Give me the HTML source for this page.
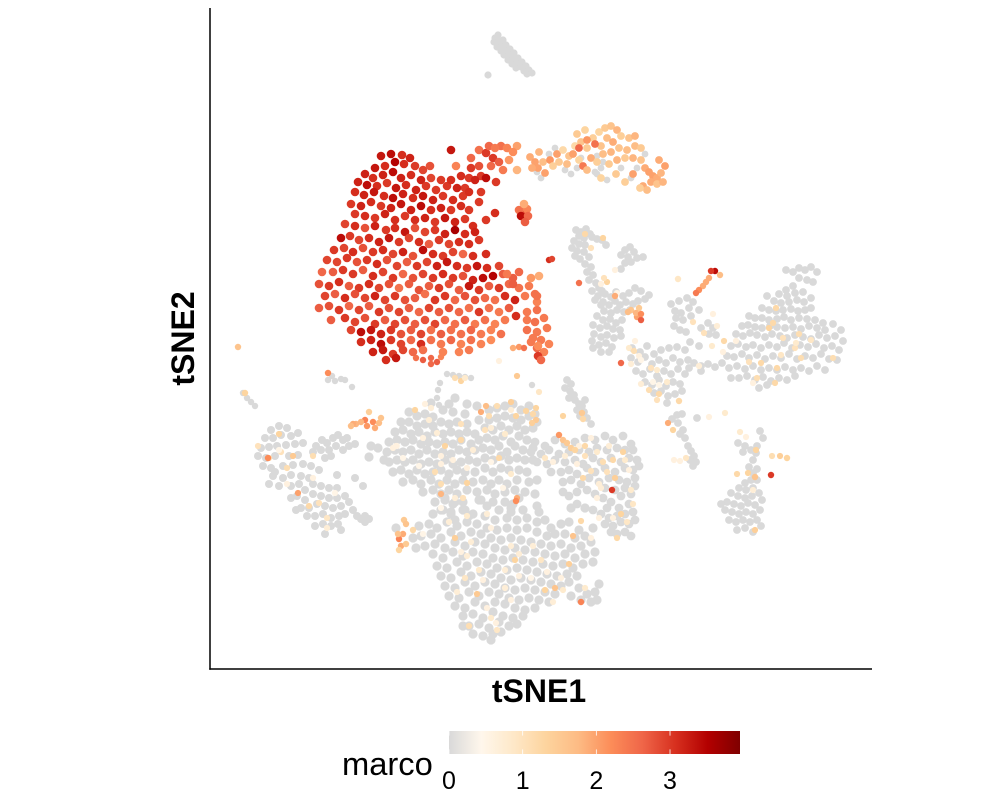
<!DOCTYPE html>
<html lang="en">
<head>
<meta charset="utf-8">
<title>tSNE marco expression</title>
<style>
html,body{margin:0;padding:0;background:#fff}
svg{display:block}
text{font-family:"Liberation Sans",Arial,sans-serif;fill:#000}
</style>
</head>
<body>
<svg id="chart" xmlns="http://www.w3.org/2000/svg" width="986" height="801" viewBox="0 0 986 801">
<g id="points"></g>
<line x1="210" y1="8" x2="210" y2="669.7" stroke="#000" stroke-width="1.5"/>
<line x1="209.3" y1="669" x2="872" y2="669" stroke="#000" stroke-width="1.5"/>
<text x="539" y="702" font-size="32" font-weight="bold" text-anchor="middle">tSNE1</text>
<text transform="translate(194,338.5) rotate(-90)" font-size="32" font-weight="bold" text-anchor="middle">tSNE2</text>
<g id="legend">
<text x="342" y="775" font-size="32.7">marco</text>
</g>
</svg>
<script>
const xDomain = [-331, 331];
const yDomain = [-331, 330];
const legendTicks = [0, 1, 2, 3];
const legendMax = 3.95;
const colorStops = ['#d9d9d9','#fff7ec','#fee8c8','#fdd49e','#fdbb84','#fc8d59','#ef6548','#d7301f','#b30000','#7f0000'];

const topCluster = [-46,300,-43,303,-47,296,-42,297,-38,298,-44,291,-39,292,-35,293,-40,287,-36,288,-31,289,-37,283,-32,283,-27,285,-33,278,-28,279,-23,280,-29,274,-24,275,-19,276,-25,270,-20,271,-15,272,-17,267,-12,268,-14,264,-9,265,-53,263];

const stragglers = [-298,-55,-294,-60,-290,-64,-286,-68,-213,-42,-206,-43,-200,-41,-196,-42,-209,-38,-189,-49,-94,-36,-88,-37,-82,-38,-76,-39,-70,-40,-101,-45,-103,-52,-104,-60,-102,-67,-9,-47];

const upperChain = [35,108,40,106,45,109,49,104,38,102,43,100,51,101,56,99,61,98,65,93,33,97,38,94,44,93,31,90,36,87,34,82,39,79,43,86,48,81,44,74,50,71,46,66,52,63,48,58,55,55,58,50,51,47,57,42,61,47,54,38,60,33,
89,91,84,88,93,86,80,83,87,81,96,80,102,81,84,75,90,76,80,69,
64,44,70,41,75,46,82,42,88,45,94,50,100,47,108,43,62,36,68,33,74,37,79,33,85,36,92,34,97,37,104,39,63,27,70,25,76,28,83,26,89,28,
56,22,62,18,69,19,75,15,81,18,52,13,59,10,66,12,72,9,79,8,53,4,60,1,66,3,73,0,80,2,51,-3,58,-7,65,-5,71,-9,52,-10,60,-14,68,-14,
91,-10,99,-14,106,-8,113,-16,120,-12,128,-10,136,-9,144,-12,90,-20,97,-24,104,-19,111,-26,118,-22,125,-25,132,-20,139,-24,147,-22,95,-33,102,-36,109,-31,116,-38,123,-33,130,-36,137,-31,144,-36,104,-44,111,-47,118,-42,125,-48,132,-44,139,-46,113,-55,120,-53,127,-58,134,-56,141,-53,126,-65,
130,34,138,37,146,40,152,36,158,28,134,27,140,25,148,30,135,20,142,18,150,22,133,12,139,8,145,6,160,10,167,15,172,10,168,4,175,3,149,-4,158,-8,
153,-25,160,-28,167,-26,174,-29,181,-25,160,-33,148,-30,
245,68,252,66,258,70,264,68,270,71,276,66,258,60,266,58,272,56,252,52,245,48,238,44,246,42,254,45,262,46,226,42,233,37,240,35,248,36,256,38,263,36,270,40,
221,30,228,28,235,27,242,28,250,29,257,27,264,28,270,30,208,22,214,20,221,20,228,18,236,19,243,21,250,18,258,20,266,19,274,18,282,15,201,12,207,13,214,11,221,10,229,12,236,11,244,10,252,11,260,9,268,12,276,10,284,8,292,14,300,8,
195,4,202,2,209,5,216,3,224,1,231,4,239,2,246,0,254,3,262,1,270,-1,278,3,286,0,294,2,302,-3,190,-8,197,-6,205,-9,212,-7,220,-10,228,-7,236,-9,243,-5,251,-10,259,-7,267,-9,275,-6,283,-10,291,-8,298,-12,
186,-18,193,-19,201,-16,208,-20,216,-17,224,-21,232,-18,240,-20,248,-16,256,-21,264,-18,272,-20,280,-16,288,-21,296,-22,188,-30,196,-28,204,-31,212,-28,220,-32,228,-30,236,-32,244,-29,252,-32,260,-30,268,-33,276,-28,284,-32,198,-40,206,-38,214,-42,222,-39,230,-43,238,-40,246,-42,254,-38,218,-50,226,-47,190,-40,
131,-81,137,-85,142,-92,139,-96,144,-100,147,-108,150,-113,153,-118,155,-124,149,-122,152,-128,136,-77,156,-80,141,-76,
26,-42,30,-46,24,-50,29,-53,33,-57,28,-60,34,-62,38,-66,36,-72,41,-68,43,-74,39,-78,46,-80,50,-86,44,-62,
197,-105,204,-108,210,-112,216,-108,202,-114,222,-100,219,-93,
208,-129,212,-135,216,-131,210,-142,204,-145,216,-142,198,-150,205,-152,212,-150,190,-155,197,-158,204,-160,211,-158,218,-155,186,-164,193,-166,200,-168,207,-165,214,-167,221,-162,184,-172,191,-174,198,-176,205,-174,212,-176,219,-172,188,-182,195,-184,202,-182,209,-184,216,-182,196,-192,204,-190,212,-194,220,-188,180,-166,212,-122,215,-115];

const leftCluster = [-270,-92,-262,-88,-254,-90,-276,-100,-268,-100,-260,-97,-250,-98,-243,-95,-280,-110,-272,-109,-264,-108,-255,-107,-246,-106,-238,-105,-283,-118,-275,-120,-266,-118,-252,-118,-243,-117,-278,-128,-270,-130,-258,-128,-248,-127,-238,-126,-230,-128,-268,-138,-258,-140,-250,-137,-240,-138,-272,-146,-262,-148,-266,-134,
-225,-108,-219,-102,-214,-105,-208,-100,-203,-97,-198,-102,-192,-108,-228,-114,-220,-112,-212,-112,-205,-108,-198,-112,-194,-100,-186,-106,-210,-118,-216,-120,
-250,-148,-242,-146,-236,-152,-228,-146,-220,-148,-212,-150,-204,-150,-250,-160,-244,-158,-236,-162,-228,-156,-220,-158,-212,-160,-204,-160,-196,-158,-240,-170,-232,-170,-224,-166,-216,-168,-208,-170,-200,-168,-234,-178,-226,-178,-218,-176,-210,-180,-202,-178,-196,-176,-226,-188,-218,-186,-210,-188,-203,-186,-200,-192,-216,-196,-184,-178,-180,-181,-176,-178,-172,-181,-176,-184,-245,-172,-192,-164,-188,-172,-204,-137,-186,-140,-178,-148,-222,-132,-232,-140];

const centralCluster = [-132,-74,-124,-78,-116,-76,-108,-79,-98,-72,-88,-74,-74,-66,-76,-76,-64,-68,-52,-72,-44,-70,-36,-68,-28,-66,-20,-72,-12,-68,-6,-76,
-140,-84,-132,-84,-124,-88,-116,-86,-108,-88,-100,-84,-92,-86,-84,-84,-74,-86,-62,-82,-52,-82,-44,-80,-36,-78,-28,-80,-20,-82,-12,-78,-4,-84,
-146,-94,-138,-92,-130,-96,-122,-94,-114,-98,-106,-94,-98,-96,-90,-94,-82,-96,-74,-94,-66,-96,-56,-90,-48,-92,-40,-88,-32,-92,-24,-88,-16,-92,-8,-90,
-152,-104,-144,-102,-136,-104,-128,-102,-120,-106,-112,-104,-104,-106,-96,-104,-88,-106,-80,-102,-70,-106,-62,-102,-54,-100,-46,-102,-38,-98,-30,-104,-22,-98,-14,-102,
-154,-114,-146,-112,-138,-114,-130,-112,-122,-116,-114,-112,-106,-116,-98,-114,-90,-116,-82,-112,-74,-114,-66,-112,-58,-110,-50,-112,-42,-108,-34,-114,-26,-108,-18,-112,-8,-110,
-152,-124,-144,-122,-136,-124,-128,-122,-120,-126,-112,-124,-104,-126,-96,-122,-88,-126,-80,-124,-72,-122,-64,-124,-56,-120,-48,-122,-40,-118,-32,-122,-24,-120,-16,-122,-8,-122,
-148,-134,-140,-132,-132,-136,-124,-132,-116,-136,-108,-134,-100,-132,-92,-136,-84,-132,-76,-134,-66,-134,-56,-130,-48,-134,-40,-130,-32,-132,-22,-132,-14,-134,
-138,-144,-128,-142,-120,-146,-110,-142,-102,-146,-94,-142,-86,-146,-78,-142,-68,-144,-58,-142,-50,-146,-42,-142,-34,-146,-24,-142,-12,-144,-4,-142,
-118,-154,-108,-152,-100,-156,-92,-152,-84,-156,-74,-152,-64,-154,-54,-152,-46,-156,-36,-154,-26,-152,-16,-154,-6,-156,-106,-164,-96,-162,-88,-166,-78,-164,-60,-162,-48,-164,-36,-164,-28,-166,-4,-168,-100,-172,-90,-174,-76,-172,-30,-174,-22,-160,-72,-178,-86,-182,
-157,-122,-170,-108,-172,-119,-163,-110,-92,-66,-86,-60,-110,-65];

const rightCentral = [-6,-104,4,-108,14,-102,24,-106,34,-104,44,-100,54,-102,64,-98,72,-102,82,-98,90,-106,-10,-114,0,-116,8,-112,18,-116,28,-114,38,-112,48,-114,56,-110,66,-112,76,-110,84,-112,92,-112,
-4,-124,6,-126,14,-122,24,-124,34,-122,42,-126,52,-120,60,-124,70,-120,80,-124,88,-120,96,-122,10,-134,20,-134,28,-132,36,-136,46,-130,54,-134,64,-130,74,-134,84,-130,92,-132,98,-128,
22,-144,30,-142,40,-146,48,-140,58,-144,68,-140,78,-142,86,-144,94,-140,36,-154,46,-152,54,-156,64,-150,74,-152,84,-150,90,-156,94,-148,62,-160,70,-164,80,-158,88,-166,78,-170,66,-170,
60,-176,68,-180,76,-178,84,-176,92,-174,64,-186,72,-188,80,-184,88,-186,94,-182,76,-196,84,-194,90,-198,70,-194,36,-166,44,-170,28,-158,52,-172,22,-154];

const bottomCluster = [-96,-160,-86,-164,-62,-162,-54,-168,-42,-172,-30,-170,-18,-172,-2,-174,4,-182,
-108,-176,-98,-172,-90,-176,-78,-172,-68,-176,-56,-178,-46,-182,-34,-180,-24,-182,-14,-180,-4,-184,10,-190,20,-186,28,-184,38,-192,
-122,-188,-112,-186,-104,-190,-94,-184,-84,-188,-74,-184,-64,-186,-54,-190,-44,-192,-34,-190,-24,-192,-14,-190,-4,-194,6,-198,14,-196,24,-196,34,-200,44,-198,52,-190,
-120,-198,-110,-196,-100,-200,-90,-194,-80,-198,-70,-194,-60,-196,-50,-200,-40,-202,-30,-200,-20,-202,-10,-204,0,-206,10,-208,20,-206,30,-210,40,-208,50,-204,
-116,-208,-106,-206,-96,-210,-86,-204,-76,-208,-66,-204,-56,-206,-46,-210,-36,-212,-26,-210,-16,-212,-6,-214,4,-216,14,-218,24,-216,34,-220,44,-216,54,-214,
-108,-216,-98,-220,-88,-214,-78,-218,-68,-214,-58,-216,-48,-220,-38,-222,-28,-220,-18,-222,-8,-224,2,-226,12,-228,22,-226,32,-230,42,-226,52,-224,
-104,-228,-94,-230,-84,-224,-74,-228,-64,-224,-54,-226,-44,-230,-34,-232,-24,-230,-14,-232,-4,-234,6,-236,16,-238,26,-236,36,-238,
-100,-238,-90,-240,-80,-234,-70,-238,-60,-234,-50,-236,-40,-240,-30,-242,-20,-240,-10,-242,0,-244,10,-246,20,-248,28,-244,38,-250,46,-256,54,-254,58,-246,
-96,-248,-86,-250,-76,-244,-66,-248,-56,-244,-46,-246,-36,-250,-26,-252,-16,-250,-6,-252,4,-254,14,-256,30,-258,40,-262,50,-264,56,-262,
-92,-258,-82,-260,-72,-254,-62,-258,-52,-254,-42,-256,-32,-260,-22,-262,-12,-260,-2,-262,8,-264,-86,-268,-76,-270,-66,-264,-56,-268,-46,-264,-36,-266,-26,-270,-16,-272,-6,-270,
-78,-278,-68,-276,-58,-280,-48,-274,-38,-278,-28,-280,-18,-278,-72,-288,-62,-286,-52,-290,-42,-284,-32,-288,-24,-286,-68,-296,-58,-298,-48,-296,-40,-294,-78,-288,-50,-302,
-145,-190,-128,-200,-125,-210,44,-170,30,-170];

const topOrange = [-11,181,1.9,-6,176,2.0,-3,170,2.0,2,176,1.7,-9,170,1.9,4,165,2.0,9,178,2.1,12,172,1.4,16,184,2.0,22,188,1.2,28,182,1.6,18,176,1.5,26,174,1.7,34,192,1.2,40,196,1.6,44,208,1.3,36,204,1.5,32,184,2.0,38,178,1.3,46,190,1.5,52,200,1.4,58,206,1.3,60,192,1.6,50,180,1.9,56,176,1.4,64,210,1.5,70,212,1.6,76,208,1.8,66,200,1.7,72,196,1.9,80,202,1.4,88,200,1.6,94,202,1.8,62,184,1.7,70,186,1.8,78,190,1.6,86,188,1.7,94,192,1.7,100,190,1.5,68,174,1.5,76,178,1.8,84,180,1.5,92,180,1.8,100,178,1.6,42,172,2.4,46,168,1.7,92,164,2.0,60,160,1.3,84,156,1.4,104,170,1.9,108,166,2.0,112,162,2.0,116,160,1.9,120,165,1.8,124,172,2.0,110,156,1.9,116,154,1.6,122,156,1.8,102,152,1.9,106,148,1.7,99,150,1.4,38,190,2.6,46,198,2.1,54,194,2.5,-2,186,1.8,75,164,1.5,118,178,1.9];

const topOrangeGrey = [8,184,14,190,24,168,30,164,40,180,36,170,60,170,54,166,62,176,80,170,56,164,66,158,90,160,96,170,104,184,-4,166,0,160,56,182];

const macrophageMain = [-160,182,3.3,-150,184,3.4,-139,183,3.1,-131,180,3.2,-146,176,3.5,-156,172,3.1,-166,170,3.3,-176,164,3.2,-137,174,3.1,-126,172,3.0,-118,168,2.9,-111,172,2.8,-168,160,3.1,-158,163,3.2,-148,166,3.4,-140,160,3.2,-130,163,3.1,-120,158,3.2,-110,160,2.9,-100,158,3.0,-183,156,3.2,-174,153,3.4,-164,152,3.1,-154,155,3.0,-145,150,3.3,-135,153,3.1,-125,148,3.2,-115,152,3.0,-105,148,3.0,-94,152,3.0,-186,146,3.1,-177,143,3.2,-167,146,3.3,-157,142,3.1,-148,140,3.4,-138,144,3.2,-128,140,3.1,-118,142,3.3,-108,138,3.2,-98,142,3.0,-88,138,3.1,-78,142,3.0,-190,134,3.0,-180,132,3.2,-170,136,3.1,-160,132,3.0,-150,130,3.2,-140,134,3.3,-130,128,3.2,-120,132,3.4,-110,128,3.1,-100,130,3.2,-90,128,3.0,-80,132,3.1,-72,128,3.0,
-186,124,3.0,-176,122,3.1,-166,120,3.0,-156,124,3.2,-146,118,3.1,-136,122,3.0,-126,118,3.1,-116,120,3.2,-106,116,3.0,-96,120,3.3,-86,116,3.2,-76,119,3.0,-68,112,3.1,-196,114,2.9,-186,112,3.1,-176,110,2.8,-166,112,3.2,-155,108,3.0,-146,110,3.1,-136,106,3.3,-126,110,2.8,-116,106,2.9,-106,108,3.0,-96,104,3.2,-86,108,3.6,-76,104,3.1,-66,106,3.2,-200,100,3.4,-191,102,3.0,-182,98,2.9,-172,100,3.1,-162,96,3.2,-152,100,3.3,-142,96,3.0,-132,100,2.9,-122,96,3.1,-112,94,2.7,-102,98,3.0,-92,94,2.9,-82,96,3.1,-72,94,3.1,-62,98,3.0,-207,88,3.0,-197,90,2.9,-188,86,3.1,-178,90,2.8,-168,86,3.0,-158,88,3.1,-148,84,2.9,-138,86,3.2,-128,82,2.8,-118,88,3.4,-108,84,3.1,-98,82,3.0,-88,86,2.9,-78,84,2.6,-68,82,3.1,-55,84,3.1,
-214,78,2.9,-204,76,2.9,-194,80,3.0,-184,76,2.8,-174,78,3.0,-164,74,3.1,-154,78,2.8,-144,72,2.9,-134,76,2.7,-124,72,3.0,-114,76,2.9,-104,72,3.2,-94,76,3.3,-84,72,3.1,-74,70,3.0,-64,72,3.3,-54,70,3.1,-42,72,2.9,-219,66,2.6,-208,66,2.7,-198,68,3.0,-188,64,3.0,-178,68,2.7,-168,62,3.1,-158,66,2.9,-148,60,3.0,-138,64,2.6,-128,60,2.8,-118,64,2.9,-108,60,3.0,-98,64,3.1,-88,60,3.0,-78,62,2.8,-68,58,3.2,-58,60,3.4,-48,62,3.5,-38,64,2.7,-28,60,2.7,-22,66,2.6,
-222,54,2.8,-212,52,3.0,-202,56,3.1,-192,52,2.7,-182,50,3.0,-172,54,3.1,-162,50,2.9,-152,54,2.8,-142,50,2.5,-132,54,2.7,-122,48,2.8,-112,52,2.7,-102,50,3.0,-92,54,2.8,-82,48,2.7,-72,52,3.3,-62,48,3.0,-52,52,2.7,-42,50,3.0,-32,54,2.6,-22,50,2.5,-12,52,2.4,-216,42,2.9,-206,44,2.7,-196,40,3.1,-186,44,2.8,-176,40,2.9,-166,42,3.2,-156,38,2.9,-146,42,3.0,-136,38,2.8,-126,40,2.7,-116,44,2.5,-106,38,3.0,-96,42,3.0,-86,38,2.6,-76,42,2.8,-66,38,2.8,-56,40,2.6,-46,38,2.5,-36,42,3.1,-26,38,3.2,-16,42,2.4,-6,44,2.5,
-222,30,2.7,-212,32,2.8,-202,28,3.0,-192,32,2.6,-182,28,2.9,-172,32,2.7,-162,26,3.0,-152,30,2.8,-142,26,2.9,-132,30,2.7,-122,26,2.6,-112,30,2.9,-102,26,2.7,-92,30,2.8,-82,26,2.6,-72,30,2.5,-62,26,3.0,-52,30,2.5,-42,26,2.4,-32,30,2.7,-25,22,3.1,-14,26,2.4,-4,28,2.5,-4,36,2.3,
-210,18,2.7,-196,20,3.0,-186,16,2.9,-176,20,2.8,-166,14,3.0,-156,18,2.7,-146,14,2.9,-136,18,2.8,-126,14,2.7,-116,18,2.8,-106,14,2.9,-96,18,2.6,-86,14,2.5,-76,18,2.7,-66,14,2.4,-56,18,2.5,-46,14,2.3,-36,18,2.4,-14,18,2.4,-6,16,2.5,3,20,2.4,
-190,8,2.9,-180,6,3.4,-170,8,3.3,-160,4,3.2,-150,8,3.0,-140,4,2.8,-130,8,2.7,-120,4,2.9,-110,8,2.5,-100,4,2.7,-90,8,2.5,-80,4,2.5,-70,8,2.6,-60,4,2.4,-50,8,2.3,-40,4,2.5,-14,8,2.5,-4,6,2.4,6,10,2.4,
-180,-4,3.1,-170,-2,3.2,-160,-6,3.4,-150,-2,3.0,-140,-6,2.9,-130,-2,2.6,-120,-6,3.1,-110,-2,2.5,-100,-6,2.4,-90,-2,2.6,-80,-6,2.3,-70,-2,2.5,-60,-6,2.3,-50,-2,2.2,-10,-4,2.4,0,-2,2.4,8,-6,2.3,-168,-14,3.2,-158,-12,3.3,-148,-16,3.0,-138,-12,2.9,-128,-14,2.6,-118,-12,2.5,-98,-14,2.3,-82,-14,2.3,-72,-12,2.4,-4,-10,2.6,3,-14,2.3,-3,-18,3.0,-155,-22,3.1,-145,-20,3.3,0,-22,2.6,
-70,180,2.6,-62,188,2.5,-55,185,3.0,-48,180,3.0,-40,192,2.5,-34,190,2.3,-52,192,2.6,-46,190,2.4,-70,170,3.0,-62,172,2.8,-50,172,2.6,-42,176,2.7,-60,162,3.0,-55,160,3.4,-72,160,3.0,-66,158,3.2,-45,156,3.0,-76,150,3.0,-85,172,2.3,-90,158,3.1,-80,162,3.1,-84,150,3.2,-24,192,2.0,-28,186,2.2,-32,178,2.1,-38,168,2.4,-24,168,1.8,-90,188,3.3,-72,146,3.1,-60,146,3.0,-62,136,3.0,-18,126,2.8,-22,128,2.5,-14,129,2.3,-17,134,1.9,-20,122,3.4,-13,122,2.6,-16,116,2.7,-8,0,2.4,-55,118,3.0,-46,125,3.1,-28,54,2.7,-34,64,2.4,-10,60,2.1,-2,62,1.9,-4,42,2.5,-3,-8,2.2];

const cellStrips = [-125,-20,2.5,-118,-22,2.7,-110,-20,2.6,-104,-24,2.7,-110,-26,2.6,-100,-19,2.3,-28,-10,1.9,-22,-9,2.1,-17,-10,2.5,8,78,3.1,11,79,2.9,38,55,2.5,
-303,-9,1.6,-213,-35,2.2,-296,-55,1.3,-174,-88,2.1,-168,-84,2.2,-176,-82,2.3,-180,-84,1.8,-185,-86,1.8,-166,-90,1.9,-162,-85,1.7,-160,-80,1.6,-172,-74,1.4,-188,-86,1.9,-190,-88,1.7,-142,-201,2.3,-138,-196,1.9,-143,-196,1.6,-140,-208,1.9,-135,-206,1.5,-137,-182,1.5,-135,-186,1.6,-142,-212,1.3,-128,-192,1.2,
18,-97,2.1,22,-102,1.6,26,-105,1.5,30,-110,1.4,34,-112,1.3,
138,-63,1.2,174,67,3.4,170,67,3.0,179,63,1.7,168,60,1.9,165,56,1.9,162,52,1.9,158,48,2.2,155,45,2.4,137,59,0.9,
230,-137,3.0,214,-139,1.6,246,-120,1.3,
41,-75,1.5,42,-81,1.2,
80,-25,2.6,71,-152,3.0,-25,-163,2.2,40,-264,2.3,-273,-120,2.2,74,42,1.9,
96,21,2.0,100,18,2.7,98,30,1.5,90,28,1.6,95,25,1.8,87,26,1.7,100,24,2.2];

const lowExpression = [-283,-108,1.0,-262,-96,1.3,-272,-120,1.1,-248,-118,1.5,-228,-118,1.1,-254,-130,1.1,-254,-146,0.6,-228,-140,0.6,-243,-155,2.0,-222,-165,1.0,-214,-180,0.9,-206,-155,0.5,-232,-168,1.2,-214,-190,0.7,-260,-114,1.0,-262,-112,0.5,
-126,-72,1.3,-112,-82,0.7,-118,-100,0.6,-104,-95,0.7,-96,-108,1.3,-100,-118,0.6,-122,-128,0.5,-144,-108,0.5,-138,-120,0.5,-106,-134,1.1,-100,-126,0.6,-100,-146,1.1,-100,-156,1.8,-88,-122,0.6,-80,-86,1.0,-80,-102,1.2,-68,-112,0.7,-74,-130,0.6,-74,-145,1.3,-52,-78,1.1,-50,-90,0.7,-44,-68,1.1,-60,-74,1.9,-30,-72,0.7,-36,-96,0.8,-42,-120,1.2,-56,-92,1.0,-30,-136,0.8,-38,-150,0.5,-24,-160,1.9,-50,-124,0.5,
-86,-160,0.7,-100,-170,0.5,-78,-160,1.0,-74,-178,0.8,-92,-184,0.7,-118,-196,0.5,-86,-200,1.4,-54,-176,0.7,-50,-190,0.6,-70,-204,0.7,-74,-218,0.7,-80,-214,0.6,-30,-208,0.7,-22,-216,0.7,-26,-222,1.3,-62,-232,0.8,-76,-240,0.9,-84,-254,0.7,-64,-256,1.5,-58,-242,0.6,-54,-270,0.6,-50,-280,0.8,-36,-250,0.7,-30,-262,0.6,-72,-288,1.1,-44,-292,0.9,-45,-285,0.6,-8,-208,0.7,0,-222,0.9,4,-252,1.3,14,-250,1.6,22,-252,0.8,44,-250,0.8,12,-264,0.7,-36,-232,0.7,-10,-240,0.5,-22,-238,0.6,6,-234,0.6,20,-240,0.6,28,-226,1.4,
4,-120,0.9,12,-124,0.6,24,-118,0.7,36,-126,0.6,38,-108,0.6,44,-118,1.0,56,-114,0.8,68,-108,0.7,62,-124,1.1,72,-122,1.2,82,-114,1.3,66,-134,1.0,74,-140,1.4,84,-122,0.8,42,-140,1.2,58,-146,0.7,88,-132,0.6,90,-152,0.8,92,-166,0.9,80,-176,1.3,72,-180,0.6,86,-184,0.9,76,-200,1.2,50,-200,0.6,32,-198,1.6,40,-183,1.2,58,-180,0.6,
50,-133,1.0,60,-150,0.7,44,-108,1.2,56,-160,0.6,
50,90,1.0,44,104,1.2,62,100,1.3,66,56,1.3,60,54,0.6,63,60,1.0,74,68,0.6,76,45,0.5,
88,-10,0.8,98,-18,0.6,93,-13,1.1,108,-52,1.1,100,-46,0.7,112,-44,0.5,118,-47,0.5,116,-32,0.8,100,-22,0.5,90,-26,0.7,118,-56,1.2,116,-62,1.0,126,-44,0.8,110,-30,1.0,
94,-3,0.6,172,24,0.6,176,12,0.7,152,16,1.0,163,5,1.0,171,-8,0.8,158,-28,0.7,
182,-14,0.6,183,-3,1.2,195,-3,0.6,236,-30,1.2,220,-25,1.2,208,-24,1.0,232,15,1.2,228,10,1.3,235,30,1.2,254,-10,1.0,240,-17,0.9,255,-5,0.8,242,0,1.0,258,4,1.1,260,-20,1.1,270,-2,0.9,292,-20,1.1,234,-45,1.2,216,-40,1.1,212,-45,0.6,
132,-92,1.3,127,-85,1.9,145,-120,0.9,139,-123,0.6,133,-122,0.6,
196,-136,1.2,207,-135,1.3,212,-152,0.7,214,-192,1.4,215,-112,1.3,199,-94,0.8,205,-99,0.6,239,-118,1.4,231,-118,1.1,168,-79,0.6,184,-75,0.8,
-2,-54,0.9,-8,-76,1.2,-5,-82,1.5,22,-78,1.3,-9,-85,1.4,-15,-73,1.3,-25,-78,1.3,-42,-23,0.6,-24,-38,1.5,-86,-40,1.1,-80,-43,1.3,-76,-40,0.8,-55,-68,1.7,-5,-70,1.3,-30,-64,1.4,50,-100,0.6,-110,-70,0.7,-116,-66,0.6,-145,-108,0.6,-148,-110,0.6];

const allCells = [];
function addPairs(arr, radius) {
  for (let i = 0; i < arr.length; i += 2) allCells.push([arr[i], arr[i + 1], 0, radius]);
}
function addTriples(arr, radius) {
  for (let i = 0; i < arr.length; i += 3) allCells.push([arr[i], arr[i + 1], arr[i + 2], radius]);
}
addPairs(topCluster, 3.6);
addPairs(stragglers, 3.2);
addPairs(upperChain, 3.9);
addPairs(leftCluster, 4.0);
addPairs(centralCluster, 4.6);
addPairs(rightCentral, 4.4);
addPairs(bottomCluster, 4.6);
addPairs(topOrangeGrey, 3.4);
addTriples(lowExpression, 3.1);
addTriples(cellStrips, 3.2);
addTriples(topOrange, 3.9);
addTriples(macrophageMain, 4.3);

const xScale = v => 210 + (v - xDomain[0]) / (xDomain[1] - xDomain[0]) * 662;
const yScale = v => 669 - (v - yDomain[0]) / (yDomain[1] - yDomain[0]) * 661;
const legendScale = v => 449 + v / legendMax * 291;

function hexToRgb(h) {
  return [parseInt(h.slice(1, 3), 16), parseInt(h.slice(3, 5), 16), parseInt(h.slice(5, 7), 16)];
}
function colorFor(v) {
  const t = Math.max(0, Math.min(1, v / legendMax)) * (colorStops.length - 1);
  const i = Math.min(colorStops.length - 2, Math.floor(t));
  const a = hexToRgb(colorStops[i]);
  const b = hexToRgb(colorStops[i + 1]);
  const f = t - i;
  return 'rgb(' + a.map((c, k) => Math.round(c + (b[k] - c) * f)).join(',') + ')';
}

const NS = 'http://www.w3.org/2000/svg';
const pointsLayer = document.getElementById('points');
allCells.forEach(cell => {
  const el = document.createElementNS(NS, 'circle');
  
  
  el.setAttribute('cx', xScale(cell[0]).toFixed(1));
  el.setAttribute('cy', yScale(cell[1]).toFixed(1));
  el.setAttribute('r', cell[3]);
  el.setAttribute('fill', colorFor(cell[2]));
  pointsLayer.appendChild(el);
});

const svg = document.getElementById('chart');
const legend = document.getElementById('legend');
const defs = document.createElementNS(NS, 'defs');
const gradient = document.createElementNS(NS, 'linearGradient');
gradient.setAttribute('id', 'marco-gradient');
colorStops.forEach((c, i) => {
  const stop = document.createElementNS(NS, 'stop');
  stop.setAttribute('offset', (i / (colorStops.length - 1)).toFixed(4));
  stop.setAttribute('stop-color', c);
  gradient.appendChild(stop);
});
defs.appendChild(gradient);
svg.insertBefore(defs, svg.firstChild);

const bar = document.createElementNS(NS, 'rect');


bar.setAttribute('x', legendScale(0));
bar.setAttribute('y', 731);
bar.setAttribute('width', legendScale(legendMax) - legendScale(0));
bar.setAttribute('height', 23);
bar.setAttribute('fill', 'url(#marco-gradient)');
legend.appendChild(bar);

legendTicks.forEach(t => {
  [[731, 735.6], [749.4, 754]].forEach(span => {
    const tick = document.createElementNS(NS, 'line');
    
    
    tick.setAttribute('x1', legendScale(t));
    tick.setAttribute('x2', legendScale(t));
    tick.setAttribute('y1', span[0]);
    tick.setAttribute('y2', span[1]);
    tick.setAttribute('stroke', '#fff');
    tick.setAttribute('stroke-width', '0.8');
    legend.appendChild(tick);
  });
  const label = document.createElementNS(NS, 'text');
  
  
  label.setAttribute('x', legendScale(t));
  label.setAttribute('y', 789);
  label.setAttribute('font-size', '25');
  label.setAttribute('text-anchor', 'middle');
  label.textContent = String(t);
  legend.appendChild(label);
});
</script>
</body>
</html>
